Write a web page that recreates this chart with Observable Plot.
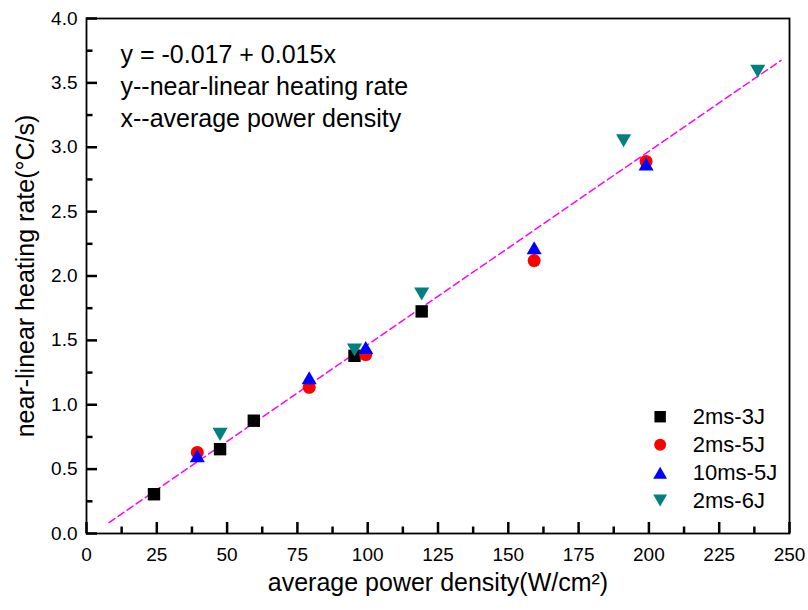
<!DOCTYPE html>
<html>
<head>
<meta charset="utf-8">
<script src="https://cdn.jsdelivr.net/npm/d3@7"></script>
<script src="https://cdn.jsdelivr.net/npm/@observablehq/plot@0.6"></script>
<style>
  body { margin: 0; background: #fff; }
  #chart svg { display: block; }
</style>
</head>
<body>
<div id="chart"></div>
<script>
// ---- data ----
const seriesNames = ["2ms-3J", "2ms-5J", "10ms-5J", "2ms-6J"];
const xs3J = [24, 47.5, 59.5, 95.3, 119.2];
const ys3J = [0.305, 0.655, 0.876, 1.38, 1.725];
const xs5J = [39.4, 79.2, 99.3, 159.2, 199];
const ys5J = [0.63, 1.135, 1.39, 2.12, 2.89];
const xs10ms5J = [39.4, 79.2, 99.3, 159.2, 199];
const ys10ms5J = [0.587, 1.193, 1.428, 2.203, 2.853];
const xs6J = [47.5, 95.3, 119.2, 191, 238.7];
const ys6J = [0.787, 1.442, 1.877, 3.067, 3.607];

// dashed fit line endpoints (as drawn)
const fitX = [8, 247];
const fitY = [0.085, 3.675];

const xDomain = [0, 250];
const yDomain = [0, 4];
const xMajorTicks = [0, 25, 50, 75, 100, 125, 150, 175, 200, 225, 250];
const xMinorTicks = [12.5, 37.5, 62.5, 87.5, 112.5, 137.5, 162.5, 187.5, 212.5, 237.5];
const yMajorTicks = [0, 0.5, 1, 1.5, 2, 2.5, 3, 3.5, 4];
const yMinorTicks = [0.25, 0.75, 1.25, 1.75, 2.25, 2.75, 3.25, 3.75];

const annotationLines = ["y = -0.017 + 0.015x", "y--near-linear heating rate", "x--average power density"];
const xTitle = "average power density(W/cm\u00B2)";
const yTitle = "near-linear heating rate(\u00B0C/s)";

// legend placement (data units)
const legendMarkerX = 204;
const legendTextX = 215.6;
const legendRowY = [0.907, 0.69, 0.474, 0.254];

// ---- layout ----
const W = 808, H = 610;
const mL = 86, mR = 19, mT = 18, mB = 77;
const frameW = W - mL - mR, frameH = H - mT - mB;
const majorLen = 11, minorLen = 6.5;
const xPerPx = (xDomain[1] - xDomain[0]) / frameW;
const yPerPx = (yDomain[1] - yDomain[0]) / frameH;

// ---- symbols ----
const triangleDown = {
  draw(context, size) {
    const y = -Math.sqrt(size / (Math.sqrt(3) * 3));
    context.moveTo(0, -2 * y);
    context.lineTo(-Math.sqrt(3) * y, y);
    context.lineTo(Math.sqrt(3) * y, y);
    context.closePath();
  }
};

const series = [
  {name: seriesNames[0], xs: xs3J, ys: ys3J, fill: "#000000", symbol: "square", r: 7.0},
  {name: seriesNames[1], xs: xs5J, ys: ys5J, fill: "#ff0000", symbol: "circle", r: 6.5},
  {name: seriesNames[2], xs: xs10ms5J, ys: ys10ms5J, fill: "#0000ff", symbol: "triangle", r: 5.6},
  {name: seriesNames[3], xs: xs6J, ys: ys6J, fill: "#008080", symbol: triangleDown, r: 5.6}
];

const font = "'Liberation Sans', Arial, Helvetica, sans-serif";

const marks = [];

// inward tick marks (bottom and left), lengths converted to data units
const tickStroke = {stroke: "black", strokeWidth: 2.5, strokeLinecap: "butt"};
marks.push(Plot.ruleX(xMajorTicks, {x: d => d, y1: () => yDomain[0], y2: () => yDomain[0] + majorLen * yPerPx, ...tickStroke}));
marks.push(Plot.ruleX(xMinorTicks, {x: d => d, y1: () => yDomain[0], y2: () => yDomain[0] + minorLen * yPerPx, ...tickStroke}));
marks.push(Plot.ruleY(yMajorTicks, {y: d => d, x1: () => xDomain[0], x2: () => xDomain[0] + majorLen * xPerPx, ...tickStroke}));
marks.push(Plot.ruleY(yMinorTicks, {y: d => d, x1: () => xDomain[0], x2: () => xDomain[0] + minorLen * xPerPx, ...tickStroke}));

// fit line
marks.push(Plot.line(fitX.map((x, i) => ({x, y: fitY[i]})), {
  x: "x", y: "y", stroke: "#ff00ff", strokeWidth: 1.5, strokeDasharray: "7,4"
}));

// data points
for (const s of series) {
  marks.push(Plot.dot(s.xs.map((x, i) => ({x, y: s.ys[i]})), {
    x: "x", y: "y", fill: s.fill, stroke: "none", symbol: s.symbol, r: s.r
  }));
}

// legend
series.forEach((s, i) => {
  const adj = s.symbol === "triangle" ? -0.017 : (s.symbol === triangleDown ? 0.017 : 0);
  marks.push(Plot.dot([s.name], {
    x: () => legendMarkerX, y: () => legendRowY[i] + adj,
    fill: s.fill, stroke: "none", symbol: s.symbol, r: s.r * 0.92
  }));
});
marks.push(Plot.text(seriesNames, {
  x: () => legendTextX, y: (d, i) => legendRowY[i], text: d => d,
  textAnchor: "start", fontSize: 22, fill: "#000"
}));

// annotation
marks.push(Plot.text([annotationLines.join("\n")], {
  frameAnchor: "top-left", dx: 34, dy: 22, lineAnchor: "top", lineHeight: 1.27,
  textAnchor: "start", fontSize: 25, fill: "#000"
}));

// tick labels
marks.push(Plot.axisX(xMajorTicks, {
  anchor: "bottom", tickSize: 0, tickPadding: 14,
  tickFormat: d => String(d), fontSize: 19, label: null, fill: "#000"
}));
marks.push(Plot.axisY(yMajorTicks, {
  anchor: "left", tickSize: 0, tickPadding: 9,
  tickFormat: d3.format(".1f"), fontSize: 19, label: null, fill: "#000"
}));

// frame
marks.push(Plot.frame({stroke: "#000", strokeWidth: 1.8}));

// axis titles
marks.push(Plot.text([xTitle], {
  frameAnchor: "bottom", dy: 57, textAnchor: "middle", fontSize: 25, fill: "#000"
}));
marks.push(Plot.text([yTitle], {
  frameAnchor: "left", dx: -61, rotate: -90, textAnchor: "middle", fontSize: 25, fill: "#000"
}));

const chart = Plot.plot({
  width: W,
  height: H,
  marginLeft: mL,
  marginRight: mR,
  marginTop: mT,
  marginBottom: mB,
  style: {fontFamily: font, background: "#fff", color: "#000", overflow: "visible"},
  x: {domain: xDomain, axis: null},
  y: {domain: yDomain, axis: null},
  marks
});

document.getElementById("chart").appendChild(chart);
</script>
</body>
</html>
